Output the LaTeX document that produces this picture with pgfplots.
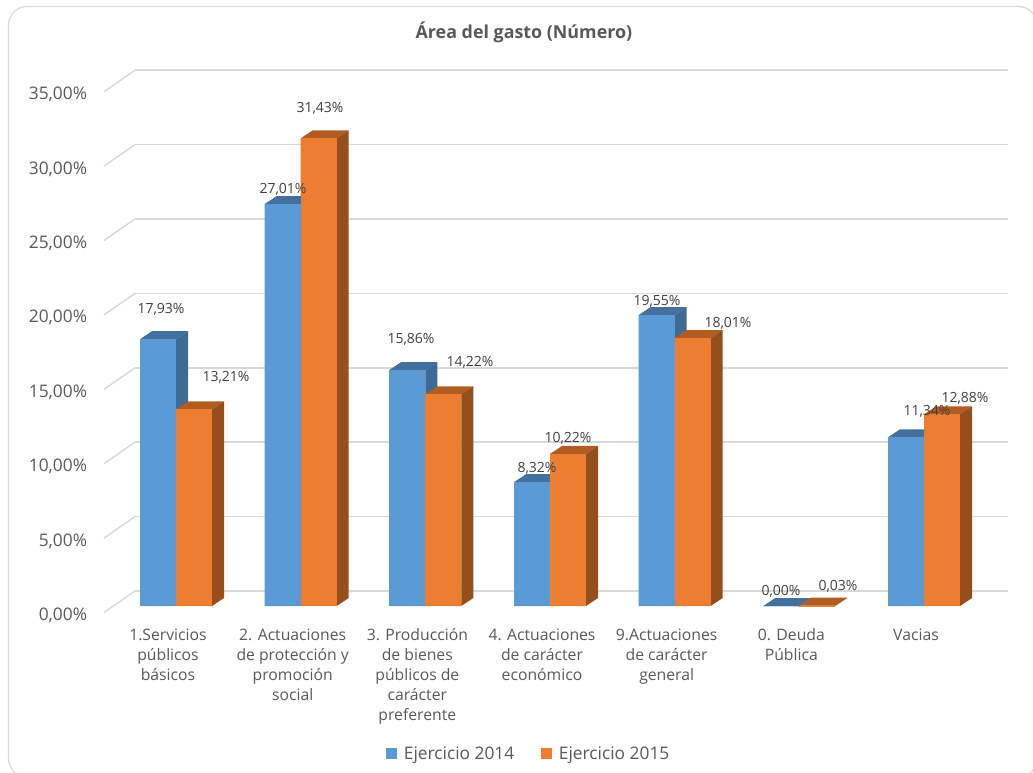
\documentclass[border=0pt]{standalone}
\usepackage{pgfplots}
\usepackage{pgfplotstable}
\usepackage{fontspec}
\setmainfont{Open Sans}
\pgfplotsset{compat=1.18}

\definecolor{azul}{HTML}{5B9BD5}
\definecolor{azultop}{HTML}{41719C}
\definecolor{azulside}{HTML}{3E6A93}
\definecolor{naranja}{HTML}{ED7D31}
\definecolor{naranjatop}{HTML}{B35C22}
\definecolor{naranjaside}{HTML}{964F1B}
\definecolor{rejilla}{HTML}{D9D9D9}
\definecolor{texto}{HTML}{595959}
\definecolor{etiqueta}{HTML}{404040}

\pgfplotstableread{
x  e2014  e2015
0  17.93  13.21
1  27.01  31.43
2  15.86  14.22
3   8.32  10.22
4  19.55  18.01
5   0.00   0.03
6  11.34  12.88
}\gasto

% one 3D bar at the marker origin (on the floor): #1 left edge, #2 right edge,
% #3 height, #4 front, #5 top, #6 side
\newcommand{\barra}[6]{%
  \fill[#5] (#1,#3) -- ++(9pt,6pt) -- ++(27pt,0pt) -- ++(-9pt,-6pt) -- cycle;
  \fill[#6] (#2,0pt) -- ++(9pt,6pt) -- ++(0pt,#3) -- ++(-9pt,-6pt) -- cycle;
  \fill[#4] (#1,0pt) rectangle (#2,#3);
}

\begin{document}
% picture coordinates are pixels of the reference, y going down
\begin{tikzpicture}[x=0.75pt, y=-0.75pt, font=\fontsize{11}{15}\selectfont]
  \useasboundingbox (0,0) rectangle (1033,773);
  \draw[rejilla, line width=0.9pt, rounded corners=14pt] (8.5,6.5) rectangle (1037,777);

  % back wall
  \begin{axis}[
    at={(101.25pt,-443.25pt)}, anchor=origin,
    x=1pt, y=11.16pt,
    xmin=0, xmax=654.75, ymin=0, ymax=35,
    axis line style={draw=none},
    xtick=\empty,
    ytick={0,5,...,35},
    yticklabels={},
    major tick length=0pt,
    ymajorgrids,
    grid style={rejilla, line width=1.3pt},
  ]
  \end{axis}

  % left wall
  \foreach \v in {0,5,...,35}
    \draw[rejilla, line width=1.1pt] (104,{612.5-\v*14.88}) -- (135,{591-\v*14.88});

  \begin{axis}[
    at={(132pt,-454.5pt)}, anchor=origin,
    x=93.5pt, y=11.16pt,
    xmin=-0.5775, xmax=6.425, ymin=0, ymax=35,
    clip=false,
    axis line style={draw=none},
    major tick length=0pt,
    xtick=data,
    xticklabels={
      {1.Servicios\\públicos\\básicos},
      {2. Actuaciones\\de protección y\\promoción\\social},
      {3. Producción\\de bienes\\públicos de\\carácter\\preferente},
      {4. Actuaciones\\de carácter\\económico},
      {9.Actuaciones\\de carácter\\general},
      {0. Deuda\\Pública},
      {Vacias}
    },
    xticklabel style={align=center, anchor=north, xshift=-6pt, yshift=-17pt,
      text=texto, font=\fontsize{11.8}{15}\selectfont, inner sep=0pt},
    ytick={0,5,...,35},
    yticklabel={\pgfmathprintnumber{\tick}\%},
    yticklabel style={/pgf/number format/.cd, fixed, fixed zerofill, precision=2, use comma,
      assume math mode=true, /tikz/.cd,
      anchor=east, xshift=-12.5pt, yshift=-7pt, inner sep=0pt,
      text=texto, font=\fontsize{13}{15}\selectfont},
    title={\textbf{Área del gasto (Número)}},
    title style={at={(0.481,1.0863)}, anchor=center, text=texto,
      font=\fontsize{13.4}{15}\selectfont},
    legend style={at={(0.4868,-0.2836)}, anchor=center, draw=none, fill=none,
      legend columns=2, text=texto, font=\fontsize{13}{15}\selectfont,
      /tikz/column 2/.style={column sep=18pt}},
    legend image code/.code={
      \fill[#1] (0pt,-4pt) rectangle (8.25pt,4pt);
      \path (0pt,0pt) -- (11.5pt,0pt);
    },
  ]
    \addplot[ybar, bar width=27pt, bar shift=-13.5pt, fill=azul, draw=none]
      table[x=x, y=e2014] {\gasto};
    \addlegendentry{Ejercicio 2014}
    \addplot[ybar, bar width=27pt, bar shift=13.5pt, fill=naranja, draw=none]
      table[x=x, y=e2015] {\gasto};
    \addlegendentry{Ejercicio 2015}
    % depth of the bars: one marker per category, blue first so orange covers its side
    \addplot[only marks, mark=*, mark size=0pt, draw=none, fill=none, forget plot, scatter,
      visualization depends on={\thisrow{e2014} \as \va},
      visualization depends on={\thisrow{e2015} \as \vb},
      scatter/@pre marker code/.code={%
        \pgfmathsetlengthmacro\ha{\va*11.16pt}%
        \pgfmathsetlengthmacro\hb{\vb*11.16pt}%
        \barra{-27pt}{0pt}{\ha}{azul}{azultop}{azulside}
        \barra{0pt}{27pt}{\hb}{naranja}{naranjatop}{naranjaside}
      },
      scatter/@post marker code/.code={},
    ] table[x=x, y expr=0] {\gasto};
  \end{axis}

  % data labels, placed by hand as in the original
  \tikzset{dato/.style={text=etiqueta, inner sep=0pt, yshift=-0.75pt, font=\fontsize{10.5}{12}\selectfont}}
  \node[dato] at (161,308) {17,93\%};
  \node[dato] at (226,376) {13,21\%};
  \node[dato] at (283,188) {27,01\%};
  \node[dato] at (320,107) {31,43\%};
  \node[dato] at (411,338) {15,86\%};
  \node[dato] at (470,361) {14,22\%};
  \node[dato] at (537,467) {8,32\%};
  \node[dato] at (568,437) {10,22\%};
  \node[dato] at (657,300) {19,55\%};
  \node[dato] at (728,322) {18,01\%};
  \node[dato] at (781,590) {0,00\%};
  \node[dato] at (838,585) {0,03\%};
  \node[dato] at (927,410) {11,34\%};
  \node[dato] at (965,397) {12,88\%};
\end{tikzpicture}
\end{document}
